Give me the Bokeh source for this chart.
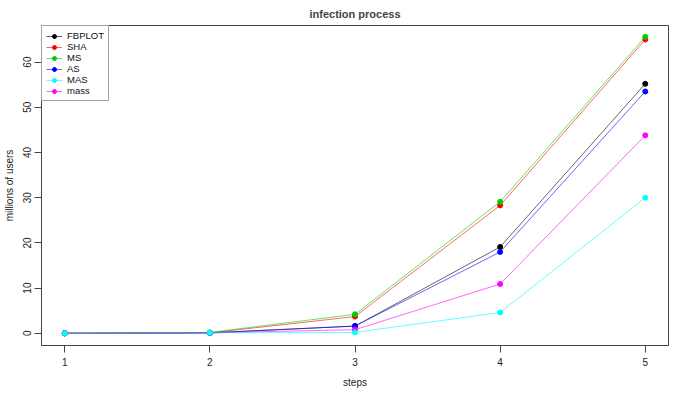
from bokeh.plotting import figure
from bokeh.models import Range1d, FixedTicker, Legend, LegendItem
from bokeh.embed import file_html
from bokeh.resources import INLINE

steps = [1, 2, 3, 4, 5]
fbplot = [0.0, 0.1, 1.6, 19.1, 55.2]
sha = [0.0, 0.1, 3.7, 28.3, 65.0]
ms = [0.0, 0.2, 4.2, 29.1, 65.6]
as_ = [0.0, 0.1, 1.6, 18.0, 53.5]
mas = [0.0, 0.1, 0.2, 4.6, 30.0]
mass = [0.0, 0.1, 0.8, 10.9, 43.8]
y_ticks = [0, 10, 20, 30, 40, 50, 60]

series = [
    ("FBPLOT", fbplot, "#000000"),
    ("SHA", sha, "#FF0000"),
    ("MS", ms, "#00CD00"),
    ("AS", as_, "#0000FF"),
    ("mass", mass, "#FF00FF"),
    ("MAS", mas, "#00FFFF"),
]
legend_order = ["FBPLOT", "SHA", "MS", "AS", "MAS", "mass"]

FONT = "Liberation Sans"

p = figure(width=669, height=390, output_backend="svg", toolbar_location=None,
           x_range=Range1d(0.84, 5.16), y_range=Range1d(-2.7, 68.1),
           title="infection process", min_border_left=41, min_border_right=1,
           min_border_top=25, min_border_bottom=0)
p.title.align = "center"
p.title.text_font = FONT
p.title.text_font_size = "11px"
p.title.text_font_style = "bold"
p.title.offset = 0
p.title.standoff = 11

p.grid.visible = False
p.background_fill_color = "white"
p.border_fill_color = "white"
p.outline_line_color = "#444444"
p.outline_line_width = 1

p.xaxis.ticker = FixedTicker(ticks=steps)
p.yaxis.ticker = FixedTicker(ticks=y_ticks)
for ax in (p.xaxis, p.yaxis):
    ax.major_tick_out = 7
    ax.major_tick_in = 0
    ax.minor_tick_out = 0
    ax.minor_tick_in = 0
    ax.axis_line_color = "#444444"
    ax.major_tick_line_color = "#444444"
    ax.major_label_text_font = FONT
    ax.major_label_text_font_size = "10px"
    ax.major_label_text_color = "#222222"
    ax.axis_label_text_font = FONT
    ax.axis_label_text_font_size = "10px"
    ax.axis_label_text_font_style = "normal"
    ax.axis_label_text_color = "#222222"
p.xaxis.axis_label = "steps"
p.yaxis.axis_label = "millions of users"
p.xaxis.major_label_standoff = 5
p.xaxis.axis_label_standoff = 8
p.yaxis.major_label_standoff = 3
p.yaxis.axis_label_standoff = 6
p.yaxis.major_label_orientation = "vertical"

renderers = {}
for name, vals, col in series:
    l = p.line(steps, vals, line_color=col, line_width=1, line_alpha=0.6)
    c = p.scatter(steps, vals, size=5, fill_color=col, line_color=col)
    renderers[name] = [l, c]

items = [LegendItem(label=n, renderers=renderers[n]) for n in legend_order]
legend = Legend(items=items, location="top_left", margin=0, padding=4,
                spacing=0, label_height=10, glyph_height=10, glyph_width=16,
                label_standoff=5, label_text_font=FONT, label_text_font_size="9.5px",
                label_text_color="#111111",
                border_line_color="#444444", border_line_width=1,
                background_fill_alpha=1.0)
p.add_layout(legend, "center")

open("out.html", "w").write(file_html(p, INLINE))
